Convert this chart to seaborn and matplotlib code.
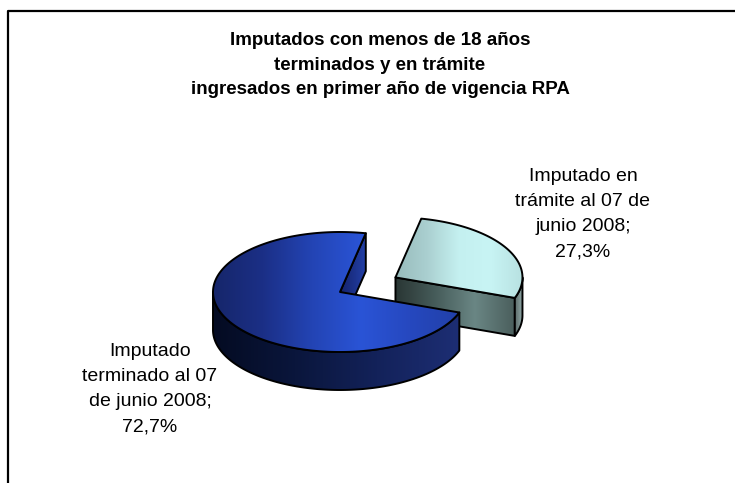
import numpy as np
import matplotlib
matplotlib.use("Agg")
import matplotlib.pyplot as plt
from matplotlib.patches import Polygon
import seaborn as sns

# data
categories = ["Imputado\nterminado al 07\nde junio 2008", "Imputado en\ntrámite al 07 de\njunio 2008"]
values = [72.7, 27.3]
title_lines = ["Imputados con menos de 18 años",
               "terminados y en trámite",
               "ingresados en primer año de vigencia RPA"]

sns.set_theme(style="white")
plt.rcParams['font.family'] = ['Liberation Sans', 'DejaVu Sans']

# pie geometry (pixel space of the figure)
CX, CY = 340, 292
RX, RY = 127, 60
DEPTH = 38
START = -20
EXPLODE = [0.0, 0.5]

# gradients for each slice: top, outer side, cut face
cmaps = [
    dict(top=sns.blend_palette(["#16266a", "#1b2f86", "#2344b4", "#2a54d6", "#2648bf", "#2140a8"], as_cmap=True),
         side=sns.blend_palette(["#040b22", "#0a163c", "#13225a", "#1d2e74"], as_cmap=True),
         cut=sns.blend_palette(["#14226a", "#2340a8"], as_cmap=True)),
    dict(top=sns.blend_palette(["#97bbbb", "#aacfd0", "#c4f0f0", "#c8f4f4", "#b8e2e2"], as_cmap=True),
         side=sns.blend_palette(["#5c6c6a", "#94acac"], as_cmap=True),
         cut=sns.blend_palette(["#293533", "#465c5a", "#6a8684", "#4a5e5c"], as_cmap=True)),
]


def arc(c, a0, a1, n=200):
    t = np.radians(np.linspace(a0, a1, n))
    return np.column_stack([c[0] + RX * np.cos(t), c[1] - RY * np.sin(t)])


def shade(ax, pts, cmap, z):
    poly = Polygon(pts, closed=True, facecolor="none", edgecolor="black",
                   lw=1.4, joinstyle="round", zorder=z + 0.5)
    ax.add_patch(poly)
    x0, x1 = pts[:, 0].min(), pts[:, 0].max()
    y0, y1 = pts[:, 1].min(), pts[:, 1].max()
    grad = np.linspace(0, 1, 256)[None, :]
    im = ax.imshow(grad, cmap=cmap, extent=(x0, x1, y1, y0), aspect="auto",
                   interpolation="bilinear", zorder=z)
    im.set_clip_path(poly)


fig = plt.figure(figsize=(7.35, 4.83), dpi=100)
ax = fig.add_axes([0, 0, 1, 1])

# slice angles
fracs = np.array(values) / sum(values)
ends = {}
a = START
for i in [1, 0]:
    ends[i] = (a, a + 360 * fracs[i])
    a += 360 * fracs[i]

z = 1
for i in [1, 0]:
    a0, a1 = ends[i]
    a0n = a0 % 360
    a1n = a0n + (a1 - a0)
    mid = np.radians((a0 + a1) / 2)
    c = (CX + EXPLODE[i] * RX * np.cos(mid), CY - EXPLODE[i] * RY * np.sin(mid))
    down = np.array([0, DEPTH])
    # cut face at start edge
    if np.cos(np.radians(a0n)) > 0:
        e = arc(c, a0n, a0n, 1)[0]
        pts = np.array([c, e, e + down, np.array(c) + down])
        shade(ax, pts, cmaps[i]["cut"], z)
        z += 1
    # front side
    f0, f1 = max(a0n, 180), min(a1n, 360)
    if f1 > f0:
        top = arc(c, f0, f1)
        pts = np.vstack([top, (top + down)[::-1]])
        shade(ax, pts, cmaps[i]["side"], z)
        z += 1
    # top face
    pts = np.vstack([[c], arc(c, a0n, a1n)])
    shade(ax, pts, cmaps[i]["top"], z)
    z += 1

# labels
pct = [f"{v:.1f}".replace(".", ",") + "%" for v in values]
ax.text(150, 389, categories[0] + ";\n" + pct[0], ha="center", va="center",
        multialignment="center", fontsize=14, linespacing=1.62, color="black", zorder=20)
ax.text(583, 214, categories[1] + ";\n" + pct[1], ha="center", va="center",
        multialignment="center", fontsize=14, linespacing=1.62, color="black", zorder=20)

ax.text(380, 65, "\n".join(title_lines), ha="center", va="center",
        multialignment="center", fontsize=13.5, fontweight="bold", linespacing=1.55,
        color="black", zorder=20)

# chart border
ax.plot([8.5, 8.5, 740], [490, 11, 11], color="black", lw=1.6, zorder=30)

ax.set_xlim(0, 735)
ax.set_ylim(483, 0)
ax.axis("off")

fig.savefig("out.png", dpi=100)
